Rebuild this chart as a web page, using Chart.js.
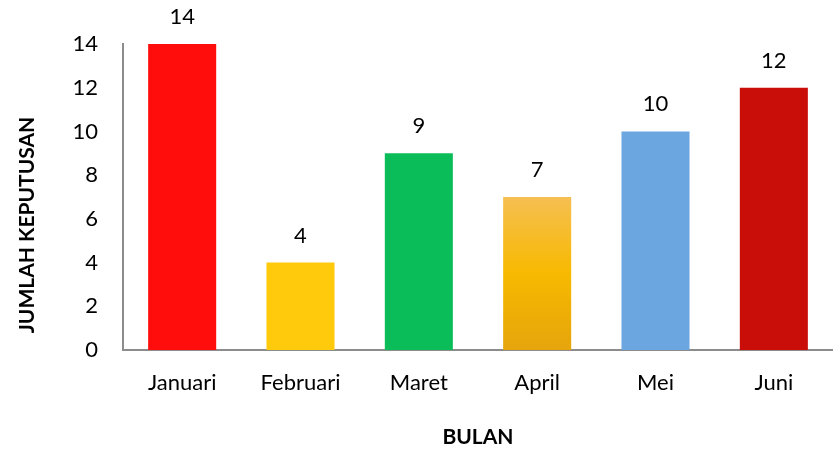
<!DOCTYPE html>
<html lang="id">
<head>
<meta charset="UTF-8">
<title>Jumlah Keputusan per Bulan</title>
<script src="https://cdn.jsdelivr.net/npm/chart.js"></script>
<style>
    html, body { margin: 0; padding: 0; background: #fff; }
    #wrap { width: 833px; height: 453px; }
</style>
</head>
<body>
<div id="wrap"><canvas id="chart" width="833" height="453"></canvas></div>
<script>
const months = ['Januari', 'Februari', 'Maret', 'April', 'Mei', 'Juni'];
const decisions = [14, 4, 9, 7, 10, 12];
const barColors = ['#FF0D0D', '#FFC90C', '#0BBD59', 'gradient', '#6CA6E0', '#C90E0A'];
const yTicks = [0, 2, 4, 6, 8, 10, 12, 14];

const FONT = 'Lato, "Open Sans", sans-serif';

function aprilGradient(ctx) {
    const chart = ctx.chart;
    const area = chart.chartArea;
    if (!area || !chart.scales.y) return '#F5B800';
    const top = chart.scales.y.getPixelForValue(decisions[ctx.dataIndex]);
    const g = chart.ctx.createLinearGradient(0, top, 0, area.bottom);
    g.addColorStop(0, '#F6BF52');
    g.addColorStop(0.5, '#F7B900');
    g.addColorStop(1, '#E6A50C');
    return g;
}

// value labels above bars + axis titles
const labelPlugin = {
    id: 'labels',
    afterDatasetsDraw(chart) {
        const ctx = chart.ctx;
        const meta = chart.getDatasetMeta(0);
        ctx.save();
        ctx.fillStyle = '#000';
        ctx.font = '22px ' + FONT;
        ctx.textAlign = 'center';
        ctx.textBaseline = 'alphabetic';
        meta.data.forEach((bar, i) => {
            ctx.fillText(String(decisions[i]), bar.x, bar.y - 20);
        });

        ctx.font = 'bold 21px ' + FONT;
        ctx.textBaseline = 'middle';
        ctx.fillText('BULAN', (chart.chartArea.left + chart.chartArea.right) / 2, 437);

        ctx.translate(27, 225);
        ctx.rotate(-Math.PI / 2);
        ctx.fillText('JUMLAH KEPUTUSAN', 0, 0);
        ctx.restore();
    }
};

new Chart(document.getElementById('chart'), {
    type: 'bar',
    data: {
        labels: months,
        datasets: [{
            data: decisions,
            backgroundColor: (ctx) => {
                const c = barColors[ctx.dataIndex];
                return c === 'gradient' ? aprilGradient(ctx) : c;
            },
            borderWidth: 0,
            barPercentage: 0.575,
            categoryPercentage: 1
        }]
    },
    options: {
        responsive: false,
        animation: false,
        layout: { padding: { top: 44, right: 0, bottom: 0, left: 0 } },
        plugins: {
            legend: { display: false },
            tooltip: { enabled: false }
        },
        scales: {
            x: {
                grid: { display: false, drawTicks: false },
                border: { display: true, color: '#8C8C8C', width: 2 },
                ticks: { color: '#000', font: { family: FONT, size: 22 }, padding: 20, maxRotation: 0 },
                afterFit(scale) { scale.height = 103; }
            },
            y: {
                min: 0,
                max: 14,
                afterBuildTicks(scale) { scale.ticks = yTicks.map(v => ({ value: v })); },
                grid: { display: false, drawTicks: false },
                border: { display: true, color: '#8C8C8C', width: 2 },
                ticks: { color: '#000', font: { family: FONT, size: 22 }, padding: 25 },
                afterFit(scale) { scale.width = 123; }
            }
        }
    },
    plugins: [labelPlugin]
});
</script>
</body>
</html>
